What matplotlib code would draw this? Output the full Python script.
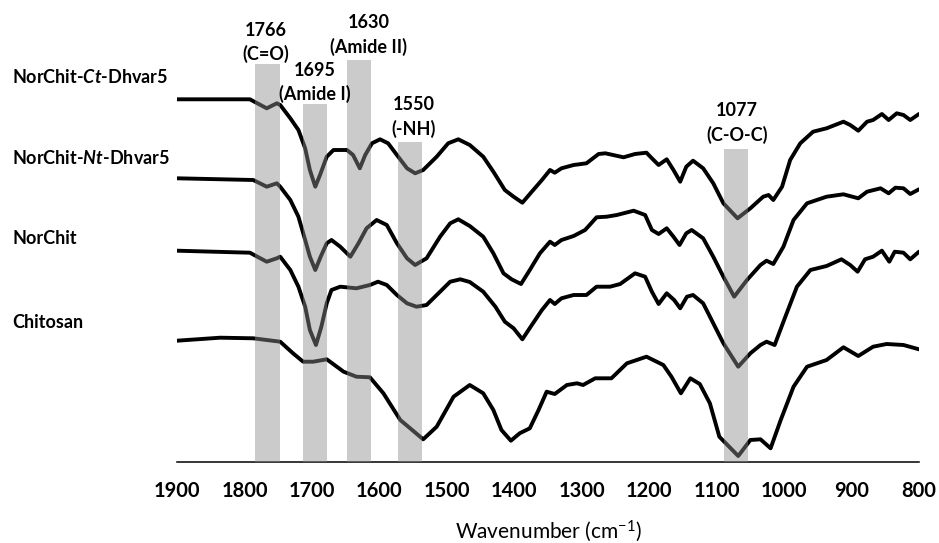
import matplotlib
matplotlib.use("Agg")
import matplotlib.pyplot as plt

plt.rcParams['font.family'] = ['Lato', 'DejaVu Sans']
plt.rcParams['mathtext.fontset'] = 'custom'
plt.rcParams['mathtext.rm'] = 'Lato'
plt.rcParams['mathtext.it'] = 'Lato:italic:bold'

# espectros FTIR (intensidad relativa, con desplazamiento vertical)
ct_wn = [1900, 1792, 1767, 1752, 1747, 1732, 1720, 1710, 1703, 1695, 1688, 1678, 1668, 1648, 1639,
         1629, 1621, 1611, 1599, 1587, 1574, 1559, 1547, 1535, 1515, 1498, 1483, 1466, 1446, 1431,
         1414, 1401, 1388, 1374, 1359, 1347, 1340, 1330, 1312, 1293, 1275, 1265, 1238, 1221, 1204,
         1196, 1186, 1174, 1164, 1154, 1145, 1135, 1120, 1105, 1090, 1069, 1050, 1031, 1023, 1016,
         1003, 991, 976, 957, 937, 912, 902, 890, 877, 868, 855, 845, 833, 823, 813, 800]
ct_val = [362.7, 362.7, 353.7, 358.7, 357, 343.7, 332, 313.7, 292, 275.3, 287, 305.3, 312, 312, 307,
          293.7, 307, 318.7, 322.7, 318.7, 307, 293.7, 288.7, 292, 305.3, 318.7, 322.7, 317, 305.3, 290.3,
          272, 265.3, 259.3, 270.3, 282, 292, 289.3, 293.7, 297, 298.7, 308, 308.7, 304.7, 308, 309.3,
          303.7, 297, 302.7, 292, 280.3, 295.3, 301.3, 293.7, 278.7, 258.7, 243.7, 253.7, 265.3, 267, 262,
          275.3, 302, 318.7, 330.3, 333.7, 340.3, 337, 331.3, 340.3, 342, 348, 342, 348.7, 347, 342, 348]

nt_wn = [1900, 1787, 1767, 1752, 1747, 1732, 1720, 1710, 1703, 1695, 1687, 1678, 1671, 1658, 1643,
         1631, 1619, 1604, 1589, 1574, 1559, 1547, 1530, 1510, 1495, 1483, 1466, 1446, 1431, 1416,
         1404, 1390, 1377, 1362, 1347, 1340, 1330, 1312, 1295, 1278, 1263, 1248, 1223, 1206, 1196,
         1186, 1174, 1164, 1155, 1145, 1137, 1120, 1105, 1090, 1074, 1055, 1035, 1026, 1016, 1001,
         986, 966, 937, 912, 890, 877, 857, 845, 835, 823, 813, 800]
nt_val = [283.7, 282, 275.3, 278.7, 275.3, 262, 245.3, 222, 205.3, 192, 205.3, 218.7, 222, 215.3, 205.3,
          218.7, 233.7, 242, 237, 218.7, 203.7, 197, 203.7, 225.3, 238.7, 242.7, 236, 225.3, 208.7, 188.7,
          182.7, 178, 192, 208.7, 220.3, 217, 222, 226, 232, 244.7, 245.3, 247, 251.3, 247, 232,
          228, 233.7, 225.3, 217, 228.7, 232, 223.7, 205.3, 185.3, 165.3, 182, 197, 201.3, 198, 215.3,
          242, 258.7, 265.3, 267.7, 263.7, 270.3, 273.7, 268.7, 274.3, 273.7, 268, 272.7]

nor_wn = [1900, 1792, 1767, 1752, 1747, 1732, 1720, 1710, 1703, 1694, 1686, 1678, 1671, 1658, 1634,
          1614, 1602, 1589, 1574, 1559, 1545, 1530, 1510, 1495, 1480, 1466, 1446, 1428, 1414, 1401,
          1388, 1374, 1359, 1347, 1340, 1330, 1312, 1293, 1278, 1258, 1243, 1221, 1206, 1196, 1186,
          1174, 1163, 1154, 1144, 1135, 1120, 1105, 1090, 1068, 1050, 1035, 1026, 1014, 1000, 981,
          961, 937, 915, 902, 891, 880, 868, 855, 844, 836, 823, 813, 800]
nor_val = [211.3, 209.3, 200.3, 203.7, 205.3, 192, 175.3, 155.3, 132, 117, 135.3, 158.7, 172, 175.3, 173.7,
           177, 180.3, 177, 167, 158.7, 155.3, 157, 170.3, 180.3, 182.7, 180, 170.3, 155.3, 140.3, 133.7,
           122.7, 137, 152, 162, 158, 163.7, 167, 167, 175.3, 175.3, 178, 188.7, 185.3, 170.3, 158,
           168.7, 162, 153.7, 165.3, 167, 158.7, 138.7, 118.7, 95.3, 108.7, 117, 120.3, 117, 142, 175.3,
           192, 196, 202.7, 197, 190.3, 202.7, 205.3, 211.3, 200.3, 210.3, 209.3, 202.7, 210.3]

chi_wn = [1900, 1836, 1787, 1747, 1728, 1713, 1698, 1678, 1653, 1634, 1614, 1594, 1569, 1535, 1515,
          1490, 1466, 1446, 1431, 1419, 1405, 1392, 1377, 1364, 1352, 1340, 1322, 1307, 1298, 1280,
          1256, 1233, 1204, 1179, 1167, 1153, 1139, 1125, 1110, 1096, 1068, 1050, 1035, 1020, 1005,
          986, 966, 937, 912, 890, 868, 848, 823, 800]
chi_val = [121.3, 124.3, 123.7, 120.3, 108.7, 100.3, 100.3, 102.7, 90.3, 85.3, 84.7, 68.7, 42, 22.7, 35.3,
           65.3, 77, 68.7, 52, 32, 21.3, 28.7, 33.7, 52, 70.3, 68, 77, 78.7, 77, 83.7,
           83.7, 98.7, 105.3, 97, 85.3, 68.7, 83.7, 78, 58.7, 25.3, 6, 22, 22.7, 13.7, 42,
           75.3, 95.3, 102, 114.7, 106, 115.3, 118, 117, 112.7]

serie_nombres = ["NorChit-$\\mathit{Ct}$-Dhvar5", "NorChit-$\\mathit{Nt}$-Dhvar5", "NorChit", "Chitosan"]

# bandas marcadas
banda_wn = [1766, 1695, 1630, 1555, 1071]
banda_alto = [398, 358, 402, 320, 313]
banda_texto = ["1766\n(C=O)", "1695\n(Amide I)", "1630\n(Amide II)", "1550\n(-NH)", "1077\n(C-O-C)"]
texto_wn = [1768, 1696, 1616, 1549, 1070]
texto_y = [419.5, 379.5, 427, 345, 339]

fig = plt.figure(figsize=(9.39, 5.43), dpi=100)
ax = fig.add_axes([177/939, 81/543, 742/939, 462/543])

for wn, val in [(ct_wn, ct_val), (nt_wn, nt_val), (nor_wn, nor_val), (chi_wn, chi_val)]:
    ax.plot(wn, val, color='black', lw=2.8, solid_joinstyle='round', solid_capstyle='round', zorder=2)

ax.bar(banda_wn, banda_alto, width=36, color='#8c8c8c', alpha=0.45, zorder=3)

for x, y, t in zip(texto_wn, texto_y, banda_texto):
    ax.text(x, y, t, ha='center', va='center', fontsize=13, fontweight='bold', linespacing=1.4)

ax.set_xlim(1900, 800)
ax.set_ylim(0, 462)
ax.set_xticks(range(1900, 799, -100))
ax.tick_params(axis='x', length=0, pad=14, labelsize=14.5)
for lbl in ax.get_xticklabels():
    lbl.set_fontweight('bold')
ax.set_yticks([])
for s in ['left', 'top', 'right']:
    ax.spines[s].set_visible(False)
ax.spines['bottom'].set_linewidth(1.1)
ax.set_xlabel('Wavenumber (cm$^{-1}$)', fontsize=15, labelpad=12)

for nombre, ypix in zip(serie_nombres, [77, 158, 238, 323]):
    fig.text(12/939, (543 - ypix)/543, nombre, ha='left', va='center', fontsize=13, fontweight='bold')

fig.savefig('out.png', dpi=100)
